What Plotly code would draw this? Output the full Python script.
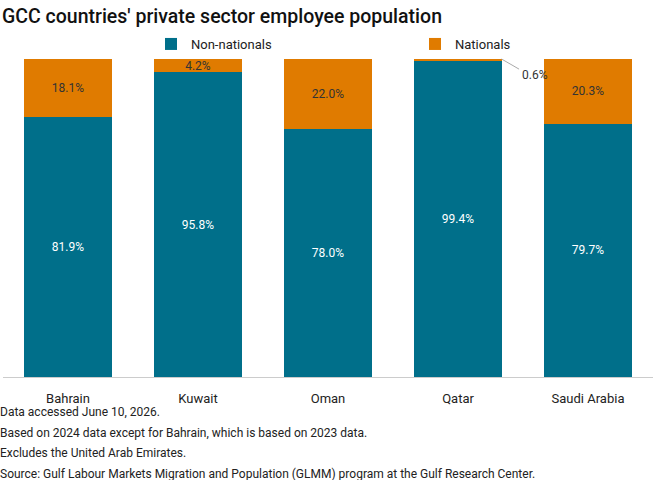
import plotly.graph_objects as go

countries = ["Bahrain", "Kuwait", "Oman", "Qatar", "Saudi Arabia"]
non_nationals = [81.9, 95.8, 78.0, 99.4, 79.7]
nationals = [18.1, 4.2, 22.0, 0.6, 20.3]

teal = "#006F8A"
orange = "#E07B00"
FONT = "Roboto"
H = 480

nat_text = [f"{v:.1f}%" if v >= 2 else "" for v in nationals]

fig = go.Figure()
fig.add_bar(x=countries, y=non_nationals, name="Non-nationals", marker_color=teal,
            marker_line_width=0, legend="legend",
            text=[f"{v:.1f}%" for v in non_nationals], textposition="inside",
            insidetextanchor="middle", textfont=dict(color="white", size=12, family=FONT))
fig.add_bar(x=countries, y=nationals, name="Nationals", marker_color=orange,
            marker_line_width=0, legend="legend2",
            text=nat_text, textposition="inside",
            insidetextanchor="middle", textfont=dict(color="#333333", size=12, family=FONT))

# Qatar small-value callout
qi = countries.index("Qatar")
fig.add_annotation(x=qi + 0.335, y=100, xref="x", yref="y", ax=19, ay=11,
                   showarrow=True, arrowhead=0, arrowwidth=1, arrowcolor="#aaaaaa",
                   text="", standoff=0)
fig.add_annotation(x=qi + 0.335, y=100, xref="x", yref="y", text=f"{nationals[qi]:.1f}%",
                   showarrow=False, xanchor="left", yanchor="middle", xshift=18, yshift=-16,
                   font=dict(size=12, color="#333333", family=FONT))

notes = [
    "Data accessed June 10, 2026.",
    "Based on 2024 data except for Bahrain, which is based on 2023 data.",
    "Excludes the United Arab Emirates.",
    "Source: Gulf Labour Markets Migration and Population (GLMM) program at the Gulf Research Center.",
]
for i, n in enumerate(notes):
    fig.add_annotation(x=0, y=0, xref="paper", yref="paper", text=n, showarrow=False,
                       xanchor="left", yanchor="middle", xshift=-4, yshift=-(35 + 20.5 * i),
                       borderpad=0,
                       font=dict(size=12, color="#222222", family=FONT))

leg_common = dict(orientation="h", xanchor="left", yref="container", yanchor="middle",
                  y=1 - 44 / H, itemwidth=30, bgcolor="rgba(0,0,0,0)",
                  font=dict(size=13, color="#222222", family=FONT))

fig.update_layout(
    width=662, height=H,
    margin=dict(l=3, r=9, t=59, b=103, autoexpand=False),
    barmode="stack", bargap=0.33,
    plot_bgcolor="white", paper_bgcolor="white",
    font=dict(family=FONT, size=13, color="#222222"),
    title=dict(text="GCC countries' private sector employee population", x=0.003, xanchor="left",
               y=1 - 16 / H, yref="container", yanchor="middle",
               font=dict(size=19.5, color="#111111", family=FONT, weight=500)),
    legend=dict(**leg_common, x=(151 - 3) / 650),
    legend2=dict(**leg_common, x=(415 - 3) / 650),
    showlegend=True,
)
fig.update_traces(constraintext="none", cliponaxis=False)
fig.update_xaxes(showline=True, linecolor="#cccccc", linewidth=1, ticks="", showgrid=False,
                 ticklabelstandoff=9,
                 tickfont=dict(size=13, color="#222222", family=FONT, weight=400))
fig.update_yaxes(range=[0, 100], visible=False, showgrid=False)

fig.write_html("out.html")
